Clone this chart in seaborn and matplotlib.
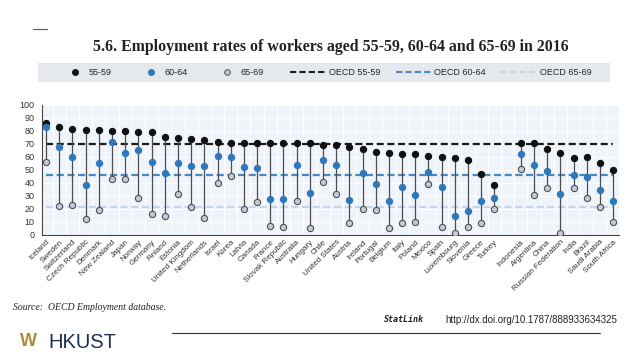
import matplotlib
matplotlib.use('Agg')
import matplotlib.pyplot as plt
from matplotlib.lines import Line2D
from matplotlib.patches import Rectangle
import seaborn as sns
import pandas as pd
import numpy as np

# Data (employment rates, %)
oecd_countries = ["Iceland", "Sweden", "Switzerland", "Czech Republic", "Denmark",
                  "New Zealand", "Japan", "Norway", "Germany", "Finland", "Estonia",
                  "United Kingdom", "Netherlands", "Israel", "Korea", "Latvia", "Canada",
                  "France", "Slovak Republic", "Australia", "Hungary", "Chile",
                  "United States", "Austria", "Ireland", "Portugal", "Belgium", "Italy",
                  "Poland", "Mexico", "Spain", "Luxembourg", "Slovenia", "Greece", "Turkey"]
partner_countries = ["Indonesia", "Argentina", "China", "Russian Federation", "India",
                     "Brazil", "Saudi Arabia", "South Africa"]

oecd_55_59 = [86, 83.3, 81.5, 81, 81, 80, 80, 79.5, 79.5, 75.6, 74.7, 73.6, 73.1, 71.8,
              71, 71, 71, 70.5, 70.5, 70.5, 70.5, 69.2, 69.2, 67.4, 66.2, 63.8, 63.3,
              62.3, 62.3, 60.8, 59.5, 59.2, 57.7, 46.9, 38.2]
oecd_60_64 = [82.8, 67.4, 59.5, 38.2, 54.9, 71.8, 63.3, 65.4, 55.9, 47.7, 55.1, 52.6,
              53, 61, 59.5, 51.8, 51, 27.7, 27.2, 53.6, 32, 57.7, 53.8, 26.9, 47.2, 39.2,
              25.6, 36.9, 30.5, 48.2, 36.7, 14.1, 18.5, 25.6, 28.5]
oecd_65_69 = [56.2, 21.8, 22.6, 12.3, 19, 42.6, 42.6, 28, 15.6, 14.1, 31.6, 21.3, 13,
              39.7, 44.9, 19.7, 24.9, 6.2, 5.6, 26.2, 5.4, 40.3, 31, 8.7, 19.5, 19.2,
              5.1, 9, 10, 38.7, 5.6, 0.8, 5.6, 9, 19.7]

partner_55_59 = [70.5, 70.5, 66.2, 62.8, 58.7, 59.5, 55.1, 50]
partner_60_64 = [62, 53.6, 49, 31.3, 45.6, 44.4, 34.6, 26.2]
partner_65_69 = [50.8, 30.3, 36.2, 0.8, 35.9, 28.2, 21.5, 9.7]

oecd_avg = {"OECD 55-59": 69.7, "OECD 60-64": 46.2, "OECD 65-69": 21.0}

groups = ["55-59", "60-64", "65-69"]

# one empty slot between OECD and partner countries
countries = oecd_countries + partner_countries
positions = list(range(len(oecd_countries))) + \
    list(range(len(oecd_countries) + 1, len(oecd_countries) + 1 + len(partner_countries)))

df = pd.DataFrame({
    "country": countries,
    "pos": positions,
    "55-59": oecd_55_59 + partner_55_59,
    "60-64": oecd_60_64 + partner_60_64,
    "65-69": oecd_65_69 + partner_65_69,
})
long = df.melt(id_vars=["country", "pos"], value_vars=groups,
               var_name="group", value_name="rate")

sns.set_style("white")
plt.rcParams['font.family'] = ['Liberation Sans', 'DejaVu Sans']

W, H = 638, 359
fig = plt.figure(figsize=(W / 100, H / 100), dpi=100)
fig.patch.set_facecolor('white')

ax_left, ax_right, ax_top, ax_bottom = 41.5, 619, 105, 234.5
ax = fig.add_axes([ax_left / W, 1 - ax_bottom / H, (ax_right - ax_left) / W, (ax_bottom - ax_top) / H])
ax.set_facecolor('#eef4fa')

# grid
ax.set_yticks(np.arange(0, 101, 10))
ax.set_xticks(np.arange(-0.5, max(positions) + 1, 1), minor=True)
ax.grid(which='major', axis='y', color='white', linewidth=0.7)
ax.grid(which='minor', axis='x', color='white', linewidth=0.7)
ax.set_axisbelow(True)

# OECD averages
avg_colors = {"OECD 55-59": '#1a1a1a', "OECD 60-64": '#4a88c2', "OECD 65-69": '#c9d5e4'}
for name, val in oecd_avg.items():
    ax.plot([min(positions), max(positions)], [val, val], color=avg_colors[name],
            linestyle=(0, (3.2, 1.6)), linewidth=1.6, zorder=2)

# connecting stems
lo = df[groups].min(axis=1)
hi = df[groups].max(axis=1)
ax.vlines(df["pos"], lo, hi, color='#4d4d4d', linewidth=0.9, zorder=3)

# points
styles = {
    "55-59": dict(color='#111111', edgecolor='#111111'),
    "60-64": dict(color='#2f78bb', edgecolor='#2f78bb'),
    "65-69": dict(color='#c3cad9', edgecolor='#505050'),
}
for g in groups:
    sub = long[long["group"] == g]
    sns.scatterplot(data=sub, x="pos", y="rate", ax=ax, s=20, linewidth=0.8,
                    zorder=4, legend=False, **styles[g])

ax.set_xlim(-0.35, max(positions) + 0.45)
ax.set_ylim(0, 100)
ax.set_xlabel('')
ax.set_ylabel('')
ax.set_xticks(positions)
ax.set_xticklabels(countries, rotation=45, ha='right', rotation_mode='anchor',
                   fontsize=5.8, color='#333333')
ax.tick_params(axis='x', which='major', length=0, pad=3)
ax.tick_params(axis='x', which='minor', length=3, color='#555555', direction='out')
ax.tick_params(axis='y', length=3, color='#555555', direction='out', labelsize=6.5,
               labelcolor='#333333', pad=2)
for side in ['top', 'right']:
    ax.spines[side].set_visible(False)
for side in ['left', 'bottom']:
    ax.spines[side].set_color('#444444')
    ax.spines[side].set_linewidth(0.8)

# legend band
fig.patches.append(Rectangle((38 / W, 1 - 82 / H), (610 - 38) / W, 19 / H,
                             transform=fig.transFigure, facecolor='#e5e8ed',
                             edgecolor='none', zorder=0))
dot_handles = [
    Line2D([], [], linestyle='none', marker='o', markersize=4, color='#111111'),
    Line2D([], [], linestyle='none', marker='o', markersize=4, color='#2f78bb'),
    Line2D([], [], linestyle='none', marker='o', markersize=4, markerfacecolor='#c3cad9',
           markeredgecolor='#505050', markeredgewidth=0.7),
]
line_handles = [
    Line2D([], [], color=avg_colors[k], linestyle=(0, (3, 1.5)), linewidth=1.5)
    for k in oecd_avg
]
fig.legend(dot_handles, groups, loc='center left', ncol=3, frameon=False,
           fontsize=6.5, bbox_to_anchor=(62 / W, 1 - 72.5 / H), handlelength=1.0,
           columnspacing=3.9, handletextpad=1.0)
fig.legend(line_handles, list(oecd_avg.keys()), loc='center left', ncol=3, frameon=False,
           fontsize=6.5, bbox_to_anchor=(282 / W, 1 - 72.5 / H), handlelength=4.0,
           columnspacing=1.7, handletextpad=0.3)

# title and rules
fig.text(0.518, 1 - 47 / H, "5.6. Employment rates of workers aged 55-59, 60-64 and 65-69 in 2016",
         ha='center', va='center', fontsize=11.4, fontweight='bold', family='Liberation Serif',
         color='#222222')
fig.add_artist(Line2D([33 / W, 47 / W], [1 - 29 / H, 1 - 29 / H], color='#555555', linewidth=0.8))

# footer
fig.text(13 / W, 1 - 307 / H, "Source:  OECD Employment database.", ha='left', va='center',
         fontsize=7, style='italic', family='Liberation Serif', color='#222222')
fig.text(384 / W, 1 - 320 / H, "StatLink", ha='left', va='center', fontsize=6,
         fontweight='bold', style='italic', family='DejaVu Sans Mono', color='#222222')
fig.text(445 / W, 1 - 320 / H, "http://dx.doi.org/10.1787/888933634325", ha='left',
         va='center', fontsize=7, color='#222222')
fig.add_artist(Line2D([172 / W, 600 / W], [1 - 333 / H, 1 - 333 / H], color='#333333', linewidth=0.8))
fig.text(20 / W, 1 - 342 / H, "W", ha='left', va='center', fontsize=13, fontweight='bold',
         color='#b08a3a')
fig.text(48 / W, 1 - 342 / H, "HKUST", ha='left', va='center', fontsize=14.5,
         color='#1f2f55')

fig.savefig('out.png', dpi=100, facecolor='white')
